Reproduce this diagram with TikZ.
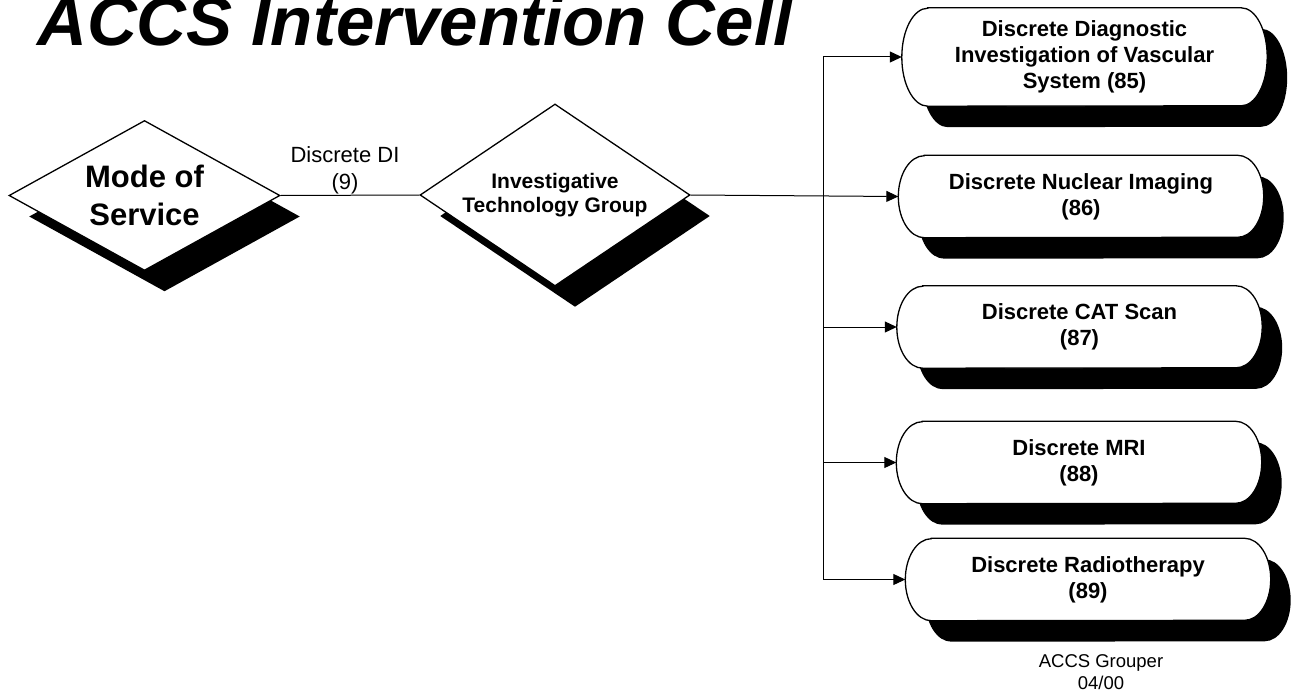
\documentclass[tikz,border=0pt]{standalone}
\usepackage{fontspec}
\setmainfont{Liberation Sans}
\usetikzlibrary{arrows.meta,shapes.geometric,shadows,backgrounds}
\tikzset{
  dshadow/.style={drop shadow={shadow xshift=20pt, shadow yshift=-21pt, fill=black, opacity=1}},
  diam/.style={diamond, draw=black, fill=white, line width=1.3pt, inner sep=0pt, align=center, dshadow},
  pillbox/.style={rectangle, minimum width=365pt, minimum height=82pt, inner sep=0pt, align=center, font=\fontsize{22}{26}\selectfont\bfseries},
  conn/.style={line width=1pt, draw=black},
  arr/.style={line width=1pt, draw=black, -{Triangle[length=12pt,width=11pt]}},
  pillline/.style={line width=1.3pt, draw=black, fill=white},
}
\newcommand\pillshape[2]{%
  \begin{pgfonlayer}{background}
    \fill[black] ([xshift=46pt,yshift=-21pt]#1.north west) -- ([xshift=-6pt,yshift=-21pt]#1.north east)
      arc[start angle=90, end angle=-90, x radius=26pt, y radius=#2]
      -- ([xshift=46pt,yshift=-21pt]#1.south west)
      arc[start angle=270, end angle=90, x radius=26pt, y radius=#2] -- cycle;
    \path[pillline] ([xshift=26pt]#1.north west) -- ([xshift=-26pt]#1.north east)
      arc[start angle=90, end angle=-90, x radius=26pt, y radius=#2]
      -- ([xshift=26pt]#1.south west)
      arc[start angle=270, end angle=90, x radius=26pt, y radius=#2] -- cycle;
  \end{pgfonlayer}}
\begin{document}
\begin{tikzpicture}[x=1pt, y=-1pt]
\useasboundingbox (0,0) rectangle (1292,693);

\node[anchor=base west, inner sep=0pt, font=\fontsize{69}{80}\selectfont\bfseries\itshape] (title) at (37,46) {ACCS Intervention Cell};

\node[diam, minimum width=271pt, minimum height=150pt, aspect=1.807, font=\fontsize{31}{38}\selectfont\bfseries] (d1) at (144.5,195.5) {Mode of\\Service};
\node[diam, minimum width=270pt, minimum height=182pt, aspect=1.48, font=\fontsize{21}{24}\selectfont\bfseries] (d2) at (555,195) {Investigative\\Technology Group};

\node[pillbox, minimum height=98pt] (b1) at (1084.5,57) {Discrete Diagnostic\\Investigation of Vascular\\System (85)};
\pillshape{b1}{49pt}
\node[pillbox] (b2) at (1081,196.5) {Discrete Nuclear Imaging\\(86)};
\pillshape{b2}{41pt}
\node[pillbox] (b3) at (1079.5,327) {Discrete CAT Scan\\(87)};
\pillshape{b3}{41pt}
\node[pillbox] (b4) at (1079,462.5) {Discrete MRI\\(88)};
\pillshape{b4}{41pt}
\node[pillbox] (b5) at (1088,579.5) {Discrete Radiotherapy\\(89)};
\pillshape{b5}{41pt}

\draw[conn] (d1.east) -- node[pos=0.464, above, inner sep=0.5pt, font=\fontsize{22}{27}\selectfont, align=center] (lbl) {Discrete DI\\(9)} (d2.west);
\draw[arr] (d2.east) -- (b2.west);

\coordinate (bt) at (823,57);
\coordinate (bb) at (823,579.5);
\draw[conn] (bt) -- (bb);
\draw[arr] (bt) -- (b1.west);
\draw[arr] (bt |- b3.west) -- (b3.west);
\draw[arr] (bt |- b4.west) -- (b4.west);
\draw[arr] (bb) -- (b5.west);

\node[inner sep=0pt, align=center, font=\fontsize{18.5}{22}\selectfont] (grp) at (1101,672) {ACCS Grouper\\04/00};
\end{tikzpicture}
\end{document}
